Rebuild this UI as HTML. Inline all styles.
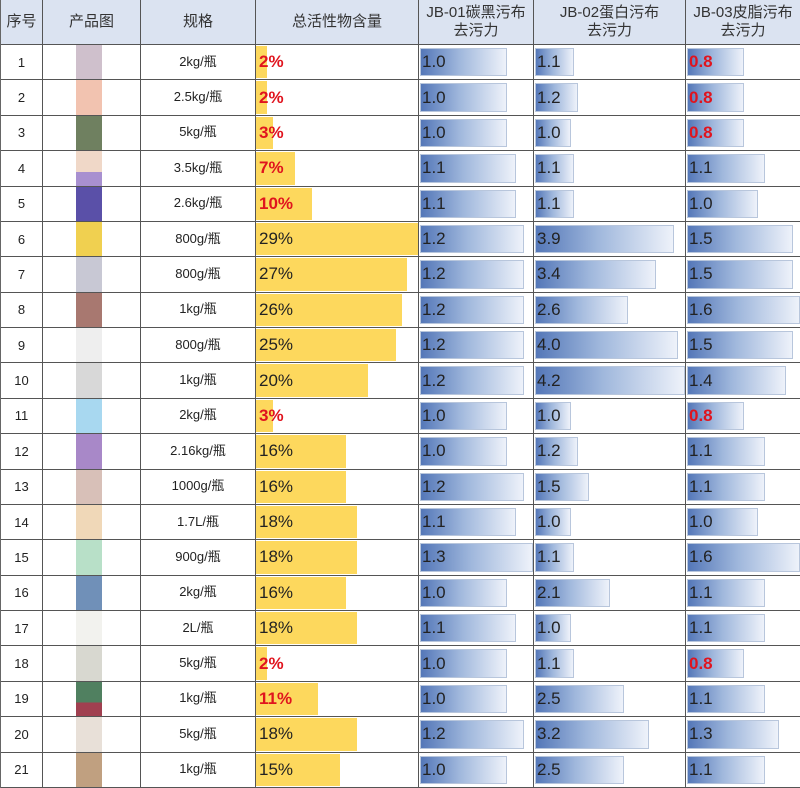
<!DOCTYPE html>
<html><head><meta charset="utf-8"><style>
*{margin:0;padding:0;box-sizing:border-box}
body{width:800px;height:788px;background:#fff;font-family:"Liberation Sans","Noto Sans CJK SC",sans-serif;color:#222;overflow:hidden}
.t{display:flex;flex-direction:column;height:788px;width:800px;border-left:1px solid #666}
.r{flex:1;display:grid;grid-template-columns:42px 98px 115px 163px 115px 152px 115px;border-bottom:1px solid #555}
.h{flex:0 0 45px;background:#dbe3f1;font-size:15px;color:#333}
.r>div{border-right:1px solid #555;position:relative;display:flex;align-items:center;overflow:hidden}
.h>div{justify-content:center;text-align:center;line-height:18px;font-size:15px}
.c{justify-content:center;font-size:13px;line-height:1}
.c span{display:block;position:relative;top:-1px}
.img i{position:absolute;left:33px;top:0;bottom:0;width:26px}
.a b{position:absolute;left:0;top:1px;bottom:1px;background:#fdd85d}
.v b{position:absolute;left:1px;top:3px;bottom:3px;background:linear-gradient(90deg,#5477b8,#9fb7dc 45%,#eef2fa);border:1px solid #b8c6dc}
.a span,.v span{position:relative;left:3px;font-size:17px;color:#222}
.a span.red,.v span.red{color:#e0141e;font-weight:bold}
</style></head><body><div class="t">
<div class="r h"><div>序号</div><div>产品图</div><div>规格</div><div>总活性物含量</div><div>JB-01碳黑污布<br>去污力</div><div>JB-02蛋白污布<br>去污力</div><div>JB-03皮脂污布<br>去污力</div></div>
<div class="r"><div class="c">1</div><div class="img"><i style="background:#cfc0cc"></i></div><div class="c"><span>2kg/瓶</span></div><div class="a"><b style="width:11px"></b><span class="red">2%</span></div><div class="v"><b style="width:87px"></b><span>1.0</span></div><div class="v"><b style="width:39px"></b><span>1.1</span></div><div class="v"><b style="width:57px"></b><span class="red">0.8</span></div></div>
<div class="r"><div class="c">2</div><div class="img"><i style="background:#f2c3b0"></i></div><div class="c"><span>2.5kg/瓶</span></div><div class="a"><b style="width:11px"></b><span class="red">2%</span></div><div class="v"><b style="width:87px"></b><span>1.0</span></div><div class="v"><b style="width:43px"></b><span>1.2</span></div><div class="v"><b style="width:57px"></b><span class="red">0.8</span></div></div>
<div class="r"><div class="c">3</div><div class="img"><i style="background:#6f8060"></i></div><div class="c"><span>5kg/瓶</span></div><div class="a"><b style="width:17px"></b><span class="red">3%</span></div><div class="v"><b style="width:87px"></b><span>1.0</span></div><div class="v"><b style="width:36px"></b><span>1.0</span></div><div class="v"><b style="width:57px"></b><span class="red">0.8</span></div></div>
<div class="r"><div class="c">4</div><div class="img"><i style="background:linear-gradient(#f0d8c8 60%,#a890d0 60%)"></i></div><div class="c"><span>3.5kg/瓶</span></div><div class="a"><b style="width:39px"></b><span class="red">7%</span></div><div class="v"><b style="width:96px"></b><span>1.1</span></div><div class="v"><b style="width:39px"></b><span>1.1</span></div><div class="v"><b style="width:78px"></b><span>1.1</span></div></div>
<div class="r"><div class="c">5</div><div class="img"><i style="background:#5a50a8"></i></div><div class="c"><span>2.6kg/瓶</span></div><div class="a"><b style="width:56px"></b><span class="red">10%</span></div><div class="v"><b style="width:96px"></b><span>1.1</span></div><div class="v"><b style="width:39px"></b><span>1.1</span></div><div class="v"><b style="width:71px"></b><span>1.0</span></div></div>
<div class="r"><div class="c">6</div><div class="img"><i style="background:#f0d050"></i></div><div class="c"><span>800g/瓶</span></div><div class="a"><b style="width:162px"></b><span>29%</span></div><div class="v"><b style="width:104px"></b><span>1.2</span></div><div class="v"><b style="width:139px"></b><span>3.9</span></div><div class="v"><b style="width:106px"></b><span>1.5</span></div></div>
<div class="r"><div class="c">7</div><div class="img"><i style="background:#c8c8d4"></i></div><div class="c"><span>800g/瓶</span></div><div class="a"><b style="width:151px"></b><span>27%</span></div><div class="v"><b style="width:104px"></b><span>1.2</span></div><div class="v"><b style="width:121px"></b><span>3.4</span></div><div class="v"><b style="width:106px"></b><span>1.5</span></div></div>
<div class="r"><div class="c">8</div><div class="img"><i style="background:#a87870"></i></div><div class="c"><span>1kg/瓶</span></div><div class="a"><b style="width:146px"></b><span>26%</span></div><div class="v"><b style="width:104px"></b><span>1.2</span></div><div class="v"><b style="width:93px"></b><span>2.6</span></div><div class="v"><b style="width:113px"></b><span>1.6</span></div></div>
<div class="r"><div class="c">9</div><div class="img"><i style="background:#eeeeee"></i></div><div class="c"><span>800g/瓶</span></div><div class="a"><b style="width:140px"></b><span>25%</span></div><div class="v"><b style="width:104px"></b><span>1.2</span></div><div class="v"><b style="width:143px"></b><span>4.0</span></div><div class="v"><b style="width:106px"></b><span>1.5</span></div></div>
<div class="r"><div class="c">10</div><div class="img"><i style="background:#d8d8d8"></i></div><div class="c"><span>1kg/瓶</span></div><div class="a"><b style="width:112px"></b><span>20%</span></div><div class="v"><b style="width:104px"></b><span>1.2</span></div><div class="v"><b style="width:150px"></b><span>4.2</span></div><div class="v"><b style="width:99px"></b><span>1.4</span></div></div>
<div class="r"><div class="c">11</div><div class="img"><i style="background:#a8d8f0"></i></div><div class="c"><span>2kg/瓶</span></div><div class="a"><b style="width:17px"></b><span class="red">3%</span></div><div class="v"><b style="width:87px"></b><span>1.0</span></div><div class="v"><b style="width:36px"></b><span>1.0</span></div><div class="v"><b style="width:57px"></b><span class="red">0.8</span></div></div>
<div class="r"><div class="c">12</div><div class="img"><i style="background:#a888c8"></i></div><div class="c"><span>2.16kg/瓶</span></div><div class="a"><b style="width:90px"></b><span>16%</span></div><div class="v"><b style="width:87px"></b><span>1.0</span></div><div class="v"><b style="width:43px"></b><span>1.2</span></div><div class="v"><b style="width:78px"></b><span>1.1</span></div></div>
<div class="r"><div class="c">13</div><div class="img"><i style="background:#d8c0b8"></i></div><div class="c"><span>1000g/瓶</span></div><div class="a"><b style="width:90px"></b><span>16%</span></div><div class="v"><b style="width:104px"></b><span>1.2</span></div><div class="v"><b style="width:54px"></b><span>1.5</span></div><div class="v"><b style="width:78px"></b><span>1.1</span></div></div>
<div class="r"><div class="c">14</div><div class="img"><i style="background:#f0d8b8"></i></div><div class="c"><span>1.7L/瓶</span></div><div class="a"><b style="width:101px"></b><span>18%</span></div><div class="v"><b style="width:96px"></b><span>1.1</span></div><div class="v"><b style="width:36px"></b><span>1.0</span></div><div class="v"><b style="width:71px"></b><span>1.0</span></div></div>
<div class="r"><div class="c">15</div><div class="img"><i style="background:#b8e0c8"></i></div><div class="c"><span>900g/瓶</span></div><div class="a"><b style="width:101px"></b><span>18%</span></div><div class="v"><b style="width:113px"></b><span>1.3</span></div><div class="v"><b style="width:39px"></b><span>1.1</span></div><div class="v"><b style="width:113px"></b><span>1.6</span></div></div>
<div class="r"><div class="c">16</div><div class="img"><i style="background:#7090b8"></i></div><div class="c"><span>2kg/瓶</span></div><div class="a"><b style="width:90px"></b><span>16%</span></div><div class="v"><b style="width:87px"></b><span>1.0</span></div><div class="v"><b style="width:75px"></b><span>2.1</span></div><div class="v"><b style="width:78px"></b><span>1.1</span></div></div>
<div class="r"><div class="c">17</div><div class="img"><i style="background:#f2f2ee"></i></div><div class="c"><span>2L/瓶</span></div><div class="a"><b style="width:101px"></b><span>18%</span></div><div class="v"><b style="width:96px"></b><span>1.1</span></div><div class="v"><b style="width:36px"></b><span>1.0</span></div><div class="v"><b style="width:78px"></b><span>1.1</span></div></div>
<div class="r"><div class="c">18</div><div class="img"><i style="background:#d8d8d0"></i></div><div class="c"><span>5kg/瓶</span></div><div class="a"><b style="width:11px"></b><span class="red">2%</span></div><div class="v"><b style="width:87px"></b><span>1.0</span></div><div class="v"><b style="width:39px"></b><span>1.1</span></div><div class="v"><b style="width:57px"></b><span class="red">0.8</span></div></div>
<div class="r"><div class="c">19</div><div class="img"><i style="background:linear-gradient(#508060 60%,#a04050 60%)"></i></div><div class="c"><span>1kg/瓶</span></div><div class="a"><b style="width:62px"></b><span class="red">11%</span></div><div class="v"><b style="width:87px"></b><span>1.0</span></div><div class="v"><b style="width:89px"></b><span>2.5</span></div><div class="v"><b style="width:78px"></b><span>1.1</span></div></div>
<div class="r"><div class="c">20</div><div class="img"><i style="background:#e8e0d8"></i></div><div class="c"><span>5kg/瓶</span></div><div class="a"><b style="width:101px"></b><span>18%</span></div><div class="v"><b style="width:104px"></b><span>1.2</span></div><div class="v"><b style="width:114px"></b><span>3.2</span></div><div class="v"><b style="width:92px"></b><span>1.3</span></div></div>
<div class="r"><div class="c">21</div><div class="img"><i style="background:#c0a080"></i></div><div class="c"><span>1kg/瓶</span></div><div class="a"><b style="width:84px"></b><span>15%</span></div><div class="v"><b style="width:87px"></b><span>1.0</span></div><div class="v"><b style="width:89px"></b><span>2.5</span></div><div class="v"><b style="width:78px"></b><span>1.1</span></div></div>
</div></body></html>
